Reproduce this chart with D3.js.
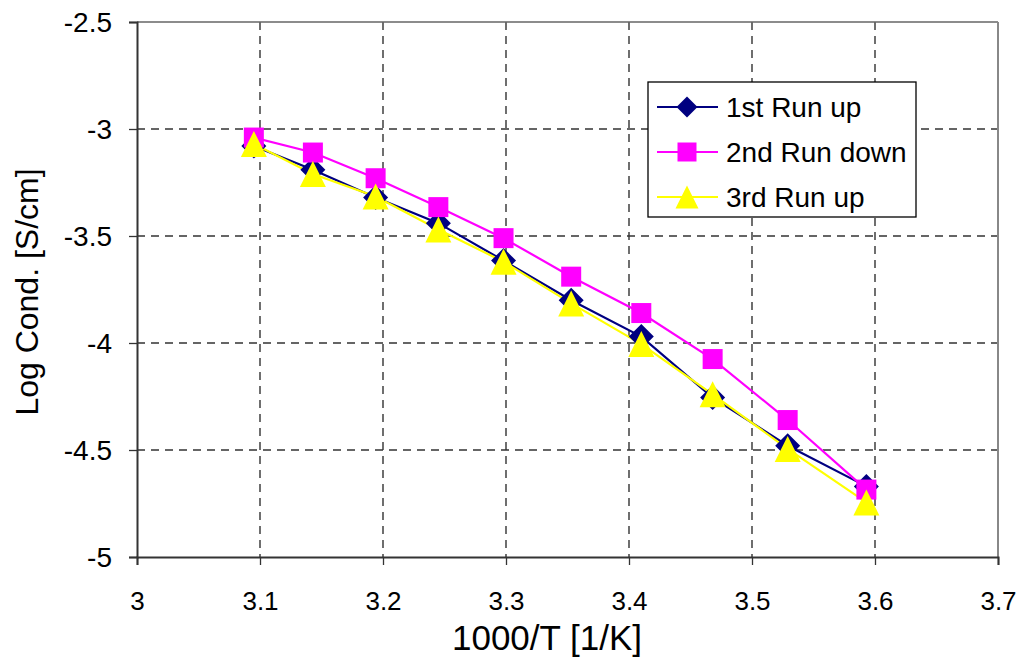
<!DOCTYPE html>
<html>
<head>
<meta charset="utf-8">
<script src="https://cdn.jsdelivr.net/npm/d3@7"></script>
<style>
  body { margin: 0; background: #fff; }
  svg text { font-family: "Liberation Sans", Arial, sans-serif; fill: #000; }
</style>
</head>
<body>
<div id="chart"></div>
<script>
// values
const invT = [3.095, 3.143, 3.194, 3.245, 3.298, 3.353, 3.410, 3.468, 3.529, 3.593];
const run1 = [-3.08, -3.19, -3.32, -3.44, -3.615, -3.80, -3.97, -4.255, -4.48, -4.67];
const run2 = [-3.04, -3.11, -3.23, -3.365, -3.51, -3.69, -3.86, -4.075, -4.36, -4.685];
const run3 = [-3.07, -3.21, -3.315, -3.47, -3.62, -3.815, -4.005, -4.24, -4.495, -4.745];
const seriesNames = ["1st Run up", "2nd Run down", "3rd Run up"];
const xTicks = [3, 3.1, 3.2, 3.3, 3.4, 3.5, 3.6, 3.7];
const yTicks = [-2.5, -3, -3.5, -4, -4.5, -5];

const w = 1016, h = 658;
const mLeft = 137, mRight = 998, mTop = 22, mBottom = 557;

const svg = d3.select("#chart").append("svg").attr("width", w).attr("height", h);

const x = d3.scaleLinear().domain([3, 3.7]).range([mLeft, mRight]);
const y = d3.scaleLinear().domain([-5, -2.5]).range([mBottom, mTop]);

// excel-like markers, size = box width
const diamond = { draw(ctx, s) { const r = s / 2; ctx.moveTo(0, -r); ctx.lineTo(r, 0); ctx.lineTo(0, r); ctx.lineTo(-r, 0); ctx.closePath(); } };
const square = { draw(ctx, s) { const r = s / 2; ctx.rect(-r, -r, s, s); } };
const triangle = { draw(ctx, s) { const r = s / 2; ctx.moveTo(0, -r); ctx.lineTo(r, r); ctx.lineTo(-r, r); ctx.closePath(); } };

// dashed grid
svg.append("g").selectAll("line").data(xTicks.slice(1, -1)).enter().append("line")
  .attr("x1", d => x(d)).attr("x2", d => x(d)).attr("y1", mTop).attr("y2", mBottom)
  .attr("stroke", "#222").attr("stroke-width", 1.3).attr("stroke-dasharray", "8,6");
svg.append("g").selectAll("line").data(yTicks.slice(1, -1)).enter().append("line")
  .attr("y1", d => y(d)).attr("y2", d => y(d)).attr("x1", mLeft).attr("x2", mRight)
  .attr("stroke", "#333").attr("stroke-width", 1.3).attr("stroke-dasharray", "8,6");

// plot frame (top/right lighter)
svg.append("line").attr("x1", mLeft).attr("x2", mRight).attr("y1", mTop).attr("y2", mTop)
  .attr("stroke", "#666").attr("stroke-width", 1.5);
svg.append("line").attr("x1", mRight).attr("x2", mRight).attr("y1", mTop).attr("y2", mBottom)
  .attr("stroke", "#888").attr("stroke-width", 2);

// axes
const xAxis = d3.axisBottom(x).tickValues(xTicks).tickSize(8).tickPadding(27)
  .tickFormat(d => String(+d.toFixed(1)));
const yAxis = d3.axisLeft(y).tickValues(yTicks).tickSize(8).tickPadding(17)
  .tickFormat(d => String(d));

const gx = svg.append("g").attr("transform", `translate(0,${mBottom})`).call(xAxis);
const gy = svg.append("g").attr("transform", `translate(${mLeft},0)`).call(yAxis);
[gx, gy].forEach(g => {
  g.select(".domain").attr("stroke", "#333").attr("stroke-width", 2);
  g.selectAll(".tick line").attr("stroke", "#333").attr("stroke-width", 1.3);
  g.selectAll("text").attr("fill", "#000")
    .attr("font-family", "'Liberation Sans', Arial, sans-serif");
});
gx.selectAll("text").attr("font-size", 26);
gy.selectAll("text").attr("font-size", 28).attr("dy", "0.35em");

// axis titles
svg.append("text").attr("x", 547).attr("y", 650)
  .attr("text-anchor", "middle").attr("font-size", 35).text("1000/T [1/K]");
svg.append("text").attr("transform", "translate(38,292) rotate(-90)")
  .attr("text-anchor", "middle").attr("font-size", 32).text("Log Cond. [S/cm]");

const series = [
  { name: seriesNames[0], values: run1, color: "#000080", shape: diamond, size: 25, lsize: 21 },
  { name: seriesNames[1], values: run2, color: "#ff00ff", shape: square, size: 20, lsize: 19 },
  { name: seriesNames[2], values: run3, color: "#ffff00", shape: triangle, size: 26, lsize: 23 }
];

const line = d3.line().x(d => x(d[0])).y(d => y(d[1]));

series.forEach(s => {
  const pts = invT.map((t, i) => [t, s.values[i]]);
  svg.append("path").datum(pts).attr("d", line)
    .attr("fill", "none").attr("stroke", s.color).attr("stroke-width", 2.2);
});
series.forEach(s => {
  const pts = invT.map((t, i) => [t, s.values[i]]);
  svg.append("g").selectAll("path").data(pts).enter().append("path")
    .attr("d", d3.symbol().type(s.shape).size(s.size))
    .attr("transform", d => `translate(${x(d[0])},${y(d[1])})`)
    .attr("fill", s.color);
});

// legend
const lg = svg.append("g").attr("transform", "translate(648,82)");
lg.append("rect").attr("width", 268).attr("height", 135)
  .attr("fill", "#fff").attr("stroke", "#000").attr("stroke-width", 1.3);
series.forEach((s, i) => {
  const cy = 25 + i * 45;
  lg.append("line").attr("x1", 9).attr("x2", 70).attr("y1", cy).attr("y2", cy)
    .attr("stroke", s.color).attr("stroke-width", 2.2);
  lg.append("path").attr("d", d3.symbol().type(s.shape).size(s.lsize))
    .attr("transform", `translate(39,${cy})`)
    .attr("fill", s.color);
  lg.append("text").attr("x", 78).attr("y", cy).attr("dy", "0.36em")
    .attr("font-size", 28).text(s.name);
});
</script>
</body>
</html>
